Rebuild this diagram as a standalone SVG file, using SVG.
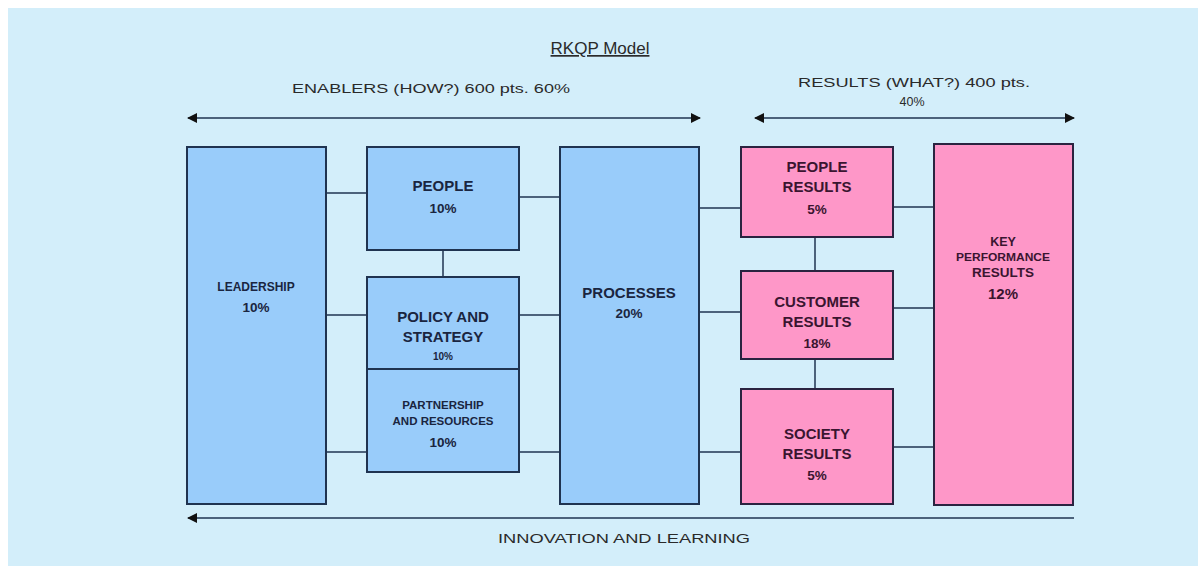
<svg xmlns="http://www.w3.org/2000/svg" width="1198" height="566" viewBox="0 0 1198 566">
<style>
.bg{fill:#d3eefa}
.blue{fill:#99ccfa;stroke:#1f3350;stroke-width:2}
.pink{fill:#fe97c8;stroke:#2a2340;stroke-width:2}
.ln{stroke:#1f3350;stroke-width:1.5;fill:none}
.arr{stroke:#1f3350;stroke-width:1.5;fill:none}
.t{font-family:"Liberation Sans",Arial,sans-serif;font-weight:bold;text-anchor:middle;fill:#1a2540}
.tp{font-family:"Liberation Sans",Arial,sans-serif;font-weight:bold;text-anchor:middle;fill:#3a1530}
.hdr{font-family:"Liberation Sans",Arial,sans-serif;text-anchor:middle;fill:#2a2a2a}
</style>
<defs>
<marker id="ah" viewBox="0 0 10 10" refX="9" refY="5" markerWidth="11" markerHeight="10" orient="auto-start-reverse" markerUnits="userSpaceOnUse">
<path d="M0,0 L10,5 L0,10 z" fill="#111"/>
</marker>
</defs>
<rect x="8" y="8" width="1190" height="558" class="bg"/>
<g id="title">
<text x="600" y="54" class="hdr" font-size="17" text-decoration="underline">RKQP Model</text>
</g>
<g id="enablers-label">
<text x="431" y="93" class="hdr" font-size="13.5" textLength="278" lengthAdjust="spacingAndGlyphs">ENABLERS (HOW?) 600 pts. 60%</text>
</g>
<g id="results-label">
<text x="914" y="87" class="hdr" font-size="13.5" textLength="232" lengthAdjust="spacingAndGlyphs">RESULTS (WHAT?) 400 pts.</text>
<text x="912" y="106" class="hdr" font-size="12.5">40%</text>
</g>
<g id="connectors">
<line x1="188" y1="118" x2="700" y2="118" class="arr" marker-start="url(#ah)" marker-end="url(#ah)"/>
<line x1="755" y1="118" x2="1074" y2="118" class="arr" marker-start="url(#ah)" marker-end="url(#ah)"/>
<line x1="1074" y1="518" x2="188" y2="518" class="arr" stroke-width="2" marker-end="url(#ah)"/>
<line x1="326" y1="193" x2="367" y2="193" class="ln"/>
<line x1="326" y1="315" x2="367" y2="315" class="ln"/>
<line x1="326" y1="452" x2="367" y2="452" class="ln"/>
<line x1="443" y1="250" x2="443" y2="277" class="ln"/>
<line x1="519" y1="197" x2="560" y2="197" class="ln"/>
<line x1="519" y1="315" x2="560" y2="315" class="ln"/>
<line x1="519" y1="452" x2="560" y2="452" class="ln"/>
<line x1="699" y1="208" x2="741" y2="208" class="ln"/>
<line x1="699" y1="312" x2="741" y2="312" class="ln"/>
<line x1="699" y1="452" x2="741" y2="452" class="ln"/>
<line x1="815" y1="237" x2="815" y2="271" class="ln"/>
<line x1="815" y1="359" x2="815" y2="389" class="ln"/>
<line x1="893" y1="207" x2="934" y2="207" class="ln"/>
<line x1="893" y1="308" x2="934" y2="308" class="ln"/>
<line x1="893" y1="447" x2="934" y2="447" class="ln"/>
</g>
<g id="leadership">
<rect x="187" y="147" width="139" height="357" class="blue"/>
<text x="256" y="291" class="t" font-size="12">LEADERSHIP</text>
<text x="256" y="312" class="t" font-size="13.5">10%</text>
</g>
<g id="people">
<rect x="367" y="147" width="152" height="103" class="blue"/>
<text x="443" y="191" class="t" font-size="15">PEOPLE</text>
<text x="443" y="213" class="t" font-size="13.5">10%</text>
</g>
<g id="policy">
<rect x="367" y="277" width="152" height="92" class="blue"/>
<text x="443" y="322" class="t" font-size="15">POLICY AND</text>
<text x="443" y="342" class="t" font-size="15">STRATEGY</text>
<text x="443" y="360" class="t" font-size="10">10%</text>
</g>
<g id="partnership">
<rect x="367" y="369" width="152" height="103" class="blue"/>
<text x="443" y="409" class="t" font-size="11.5">PARTNERSHIP</text>
<text x="443" y="425" class="t" font-size="11.5">AND RESOURCES</text>
<text x="443" y="447" class="t" font-size="13.5">10%</text>
</g>
<g id="processes">
<rect x="560" y="147" width="139" height="357" class="blue"/>
<text x="629" y="298" class="t" font-size="15">PROCESSES</text>
<text x="629" y="318" class="t" font-size="13.5">20%</text>
</g>
<g id="people-results">
<rect x="741" y="147" width="152" height="90" class="pink"/>
<text x="817" y="172" class="tp" font-size="15">PEOPLE</text>
<text x="817" y="192" class="tp" font-size="15">RESULTS</text>
<text x="817" y="214" class="tp" font-size="13.5">5%</text>
</g>
<g id="customer-results">
<rect x="741" y="271" width="152" height="88" class="pink"/>
<text x="817" y="307" class="tp" font-size="15">CUSTOMER</text>
<text x="817" y="327" class="tp" font-size="15">RESULTS</text>
<text x="817" y="348" class="tp" font-size="13.5">18%</text>
</g>
<g id="society-results">
<rect x="741" y="389" width="152" height="115" class="pink"/>
<text x="817" y="439" class="tp" font-size="15">SOCIETY</text>
<text x="817" y="459" class="tp" font-size="15">RESULTS</text>
<text x="817" y="480" class="tp" font-size="13.5">5%</text>
</g>
<g id="key-results">
<rect x="934" y="144" width="139" height="361" class="pink"/>
<text x="1003" y="246" class="tp" font-size="12.5">KEY</text>
<text x="1003" y="261" class="tp" font-size="10" font-weight="normal" textLength="94" lengthAdjust="spacingAndGlyphs">PERFORMANCE</text>
<text x="1003" y="277" class="tp" font-size="13.5">RESULTS</text>
<text x="1003" y="299" class="tp" font-size="15">12%</text>
</g>
<g id="innovation-label">
<text x="624" y="543" class="hdr" font-size="13.5" textLength="252" lengthAdjust="spacingAndGlyphs">INNOVATION AND LEARNING</text>
</g>
</svg>
